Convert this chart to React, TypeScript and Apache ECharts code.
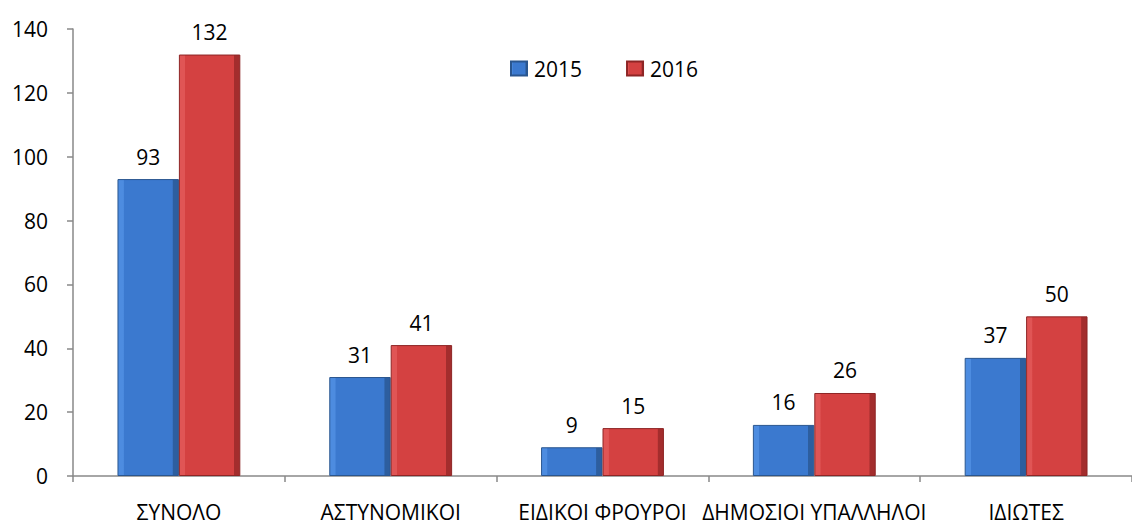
import React, { useEffect, useRef } from "react";
import * as echarts from "echarts";

const categories = ["ΣΥΝΟΛΟ", "ΑΣΤΥΝΟΜΙΚΟΙ", "ΕΙΔΙΚΟΙ ΦΡΟΥΡΟΙ", "ΔΗΜΟΣΙΟΙ ΥΠΑΛΛΗΛΟΙ", "ΙΔΙΩΤΕΣ"];
const values2015 = [93, 31, 9, 16, 37];
const values2016 = [132, 41, 15, 26, 50];
const seriesNames = ["2015", "2016"];

const FONT = "Open Sans";
const FS = 21;

function barGradient(light: string, base: string, dark: string) {
  return new echarts.graphic.LinearGradient(0, 0, 1, 0, [
    { offset: 0, color: light },
    { offset: 0.09, color: light },
    { offset: 0.1, color: base },
    { offset: 0.9, color: base },
    { offset: 0.91, color: dark },
    { offset: 1, color: dark },
  ]);
}

export default function App() {
  const ref = useRef<HTMLDivElement>(null);
  useEffect(() => {
    if (!ref.current) return;
    const chart = echarts.init(ref.current, undefined, { renderer: "svg" });
    const labelStyle = {
      show: true,
      position: "top" as const,
      distance: 12,
      color: "#000",
      fontFamily: FONT,
      fontSize: FS,
    };
    chart.setOption({
      animation: false,
      backgroundColor: "#fff",
      textStyle: { fontFamily: FONT },
      legend: {
        data: seriesNames,
        left: 505,
        top: 53,
        itemWidth: 16,
        itemHeight: 14,
        itemGap: 44,
        icon: "rect",
        textStyle: { fontFamily: FONT, fontSize: FS, color: "#000", padding: [0, 0, 0, 2] },
      },
      grid: { left: 73, right: -10, top: 29, bottom: 53, containLabel: false },
      xAxis: {
        type: "category",
        data: categories,
        axisLine: { lineStyle: { color: "#898989", width: 1.5 } },
        axisTick: { show: true, length: 6, lineStyle: { color: "#898989", width: 1.5 } },
        axisLabel: {
          interval: 0,
          margin: 26,
          lineHeight: 20,
          color: "#000",
          fontFamily: FONT,
          fontSize: FS,
        },
      },
      yAxis: {
        type: "value",
        min: 0,
        max: 140,
        interval: 20,
        splitLine: { show: false },
        axisLine: { show: true, lineStyle: { color: "#898989", width: 1.5 } },
        axisTick: { show: true, length: 6, lineStyle: { color: "#898989", width: 1.5 } },
        axisLabel: { margin: 25, color: "#000", fontFamily: FONT, fontSize: FS },
      },
      series: [
        {
          name: seriesNames[0],
          type: "bar",
          data: values2015,
          barGap: "0%",
          barCategoryGap: "42%",
          itemStyle: {
            color: barGradient("#4d8ce0", "#3b79cf", "#2d5e9f"),
            borderColor: "#2a568f",
            borderWidth: 1,
          },
          label: labelStyle,
        },
        {
          name: seriesNames[1],
          type: "bar",
          data: values2016,
          itemStyle: {
            color: barGradient("#e05555", "#d44141", "#a32d2d"),
            borderColor: "#8e2525",
            borderWidth: 1,
          },
          label: labelStyle,
        },
      ],
    });
    return () => chart.dispose();
  }, []);
  return <div ref={ref} style={{ width: 1132, height: 529, position: "absolute", left: 0, top: 0 }} />;
}
